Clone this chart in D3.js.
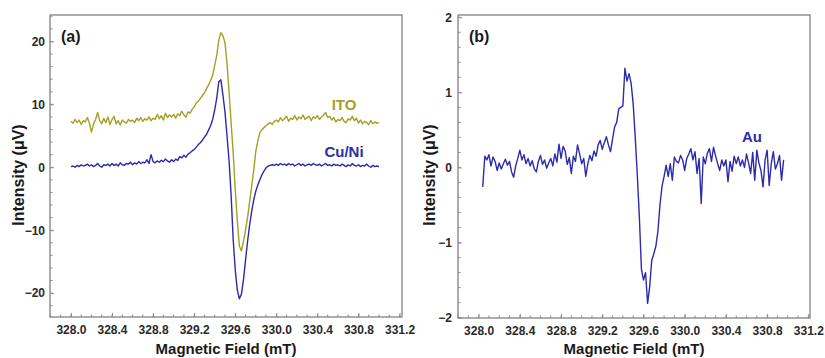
<!DOCTYPE html>
<html>
<head>
<meta charset="utf-8">
<script src="https://cdn.jsdelivr.net/npm/d3@7"></script>
<style>
  body { margin: 0; background: #fff; }
  svg { display: block; font-family: "Liberation Sans", Arial, sans-serif; }
</style>
</head>
<body>
<svg id="chart" width="825" height="358"></svg>
<script>
// field sweep (mT): first point and spacing of each recorded trace
const fieldStartA = 328.0;
const fieldStartB = 328.04;
const fieldStep = 0.02;

// panel (a) ITO, 328.00 .. 331.00
const itoValues = [
  7.3, 7.0, 7.6, 7.1, 7.5, 6.8, 7.4, 7.2, 7.9, 7.0,
  5.6, 6.9, 7.6, 8.7, 7.4, 6.9, 7.8, 7.1, 8.0, 6.8,
  7.6, 8.1, 6.9, 7.4, 6.7, 7.5, 7.2, 7.0, 7.6, 7.3,
  7.5, 7.1, 7.8, 7.4, 7.9, 7.3, 7.7, 7.5, 8.0, 7.4,
  7.8, 7.6, 8.4, 7.7, 8.2, 7.5, 8.6, 7.9, 8.3, 8.0,
  8.4, 7.8, 8.5, 8.2, 8.9, 8.3, 8.0, 8.8, 8.6, 9.2,
  9.6, 10.2, 10.5, 10.9, 11.4, 11.8, 12.5, 13.1, 13.8, 14.6,
  16.2, 17.8, 20.2, 21.4, 20.9, 19.8, 16.5, 12.0, 7.0, 2.3,
  -3.5, -8.5, -12.5, -13.3, -11.8, -10.0, -8.0, -5.5, -3.0, -0.5,
  2.5, 4.2, 5.5, 6.0, 6.3, 6.6, 6.9, 7.1, 6.8, 7.3,
  7.5, 7.2, 7.9, 7.4, 7.7, 8.1, 7.3, 7.8, 7.6, 8.2,
  7.5, 8.0, 7.7, 8.3, 7.6, 7.9, 8.1, 7.4, 8.0, 7.8,
  8.2, 7.6, 8.0, 8.3, 8.7, 7.9, 8.1, 7.5, 7.9, 7.2,
  7.6, 7.4, 7.9, 7.3, 7.1, 7.7, 7.5, 8.1, 7.4, 7.8,
  7.0, 7.5, 6.9, 7.3, 7.1, 6.8, 7.4, 6.9, 7.2, 7.0,
  7.1
];

// panel (a) Cu/Ni, 328.00 .. 331.00
const cuniValues = [
  0.1, 0.2, 0.0, 0.3, 0.1, 0.4, 0.2, 0.3, 0.5, 0.2,
  0.4, 0.1, 0.3, 0.6, 0.2, 0.0, 0.4, 0.3, 0.5, 0.2,
  0.6, 0.3, 0.5, 0.2, 0.7, 0.4, 0.3, 0.6, 0.5, 0.8,
  0.4, 0.7, 0.5, 0.9, 0.6, 0.8, 0.7, 1.2, 0.6, 2.0,
  0.9, 0.7, 1.0, 0.8, 1.1, 0.9, 1.3, 1.0, 0.8, 1.2,
  0.9, 1.3, 1.1, 1.7, 1.5, 1.9, 1.6, 2.1, 2.3, 2.6,
  2.8, 3.2, 3.6, 3.9, 4.3, 4.8, 5.2, 5.9, 6.6, 7.6,
  9.1, 11.0, 13.6, 13.9, 11.5, 8.8, 5.0, 1.0, -4.5, -11.5,
  -16.3, -19.5, -20.9, -20.2, -17.9, -14.8, -11.8, -9.2, -7.0, -5.2,
  -3.8, -2.8, -2.0, -1.2, -0.6, -0.1, 0.2, 0.3, 0.4, 0.3,
  0.5, 0.3, 0.6, 0.4, 0.5, 0.3, 0.6, 0.4, 0.5, 0.2,
  0.4, 0.6, 0.3, 0.5, 0.2, 0.4, 0.5, 0.3, 0.6, 0.4,
  0.3, 0.5, 0.2, 0.4, 0.6, 0.3, 0.4, 0.2, 0.5, 0.3,
  0.4, 0.2, 0.5, 0.3, 0.1, 0.4, 0.2, 0.6, 0.3, 0.2,
  0.4, 0.1, 0.3, 0.2, 0.5, 0.2, 0.0, 0.3, 0.1, 0.2,
  0.1
];

// panel (b) Au, 328.04 .. 330.96
const auValues = [
  -0.26, 0.15, 0.10, 0.17, 0.02, 0.14, 0.08, -0.04, 0.06, -0.02,
  0.05, 0.11, 0.03, 0.08, -0.06, -0.13, 0.02, 0.12, 0.23, 0.10,
  0.17, 0.05, 0.12, 0.02, 0.09, -0.02, -0.06, 0.08, 0.16, 0.04,
  0.10, -0.01, 0.06, 0.12, 0.02, 0.18, 0.07, 0.31, 0.12, 0.28,
  0.22, 0.04, 0.13, -0.08, 0.15, 0.08, 0.30, 0.18, 0.05, 0.12,
  -0.12, 0.05, 0.16, 0.09, 0.22, 0.15, 0.30, 0.36, 0.24, 0.33,
  0.41, 0.30, 0.21, 0.38, 0.54, 0.60, 0.78, 0.80, 0.82, 1.32,
  1.15, 1.25, 1.12, 0.85, 0.40, -0.10, -0.66, -1.35, -1.50, -1.40,
  -1.81, -1.59, -1.24, -1.15, -1.05, -0.85, -0.50, -0.25, -0.12, 0.03,
  -0.12, 0.05, -0.17, 0.14, 0.08, 0.06, 0.16, 0.10, -0.04, 0.12,
  0.18, 0.25, 0.10, 0.21, -0.08, 0.12, -0.48, 0.14, 0.05, 0.19,
  0.25, 0.08, 0.27, 0.15, 0.05, -0.04, 0.10, 0.02, 0.10, -0.19,
  0.08, -0.05, 0.15, 0.05, 0.14, 0.02, 0.10, 0.00, 0.18, 0.06,
  -0.08, 0.20, -0.17, 0.23, 0.06, -0.04, -0.26, 0.10, 0.23, -0.24,
  0.05, 0.21, -0.02, 0.05, 0.16, -0.17, 0.10
];

const xTicks = [328.0, 328.4, 328.8, 329.2, 329.6, 330.0, 330.4, 330.8, 331.2];
const yTicksA = [-20, -10, 0, 10, 20];
const yTicksB = [-2, -1, 0, 1, 2];

const olive = "#a59f26";
const blue = "#2b2bac";
const frameColor = "#8a8a8a";
const textColor = "#2a2a2a";

const svg = d3.select("#chart");

function toPoints(values, start) {
  return values.map((v, i) => [start + i * fieldStep, v]);
}

function drawPanel(opts) {
  var x = d3.scaleLinear().domain(opts.xDomain).range([opts.left, opts.right]);
  var y = d3.scaleLinear().domain(opts.yDomain).range([opts.bottom, opts.top]);

  var g = svg.append("g");

  // minor ticks first, majors drawn by the axis on top
  var xMinor = d3.range(Math.ceil(opts.xDomain[0] * 10), Math.floor(opts.xDomain[1] * 10) + 1).map(d => d / 10);
  g.append("g")
    .selectAll("line")
    .data(xMinor)
    .enter()
    .append("line")
    .attr("x1", d => x(d)).attr("x2", d => x(d))
    .attr("y1", opts.bottom).attr("y2", opts.bottom - 2.5)
    .attr("stroke", frameColor);

  var yMinor = d3.range(Math.ceil(opts.yDomain[0] / opts.yMinorStep), Math.floor(opts.yDomain[1] / opts.yMinorStep) + 1)
    .map(d => d * opts.yMinorStep);
  g.append("g")
    .selectAll("line")
    .data(yMinor)
    .enter()
    .append("line")
    .attr("x1", opts.left).attr("x2", opts.left + 2.5)
    .attr("y1", d => y(d)).attr("y2", d => y(d))
    .attr("stroke", frameColor);

  var xAxis = g.append("g")
    .attr("transform", "translate(0," + opts.bottom + ")")
    .call(d3.axisBottom(x).tickValues(xTicks).tickFormat(d3.format(".1f")).tickSizeInner(-4).tickSizeOuter(0).tickPadding(8));

  var yAxis = g.append("g")
    .attr("transform", "translate(" + opts.left + ",0)")
    .call(d3.axisLeft(y).tickValues(opts.yTicks).tickFormat(d3.format("d")).tickSizeInner(-4).tickSizeOuter(0).tickPadding(opts.yPad));

  [xAxis, yAxis].forEach(a => {
    a.select(".domain").remove();
    a.selectAll(".tick line").attr("stroke", frameColor);
    a.selectAll(".tick text")
      .attr("fill", textColor)
      .style("font-size", "12px")
      .style("font-weight", "bold")
      .style("font-family", "'Liberation Sans', Arial, sans-serif");
  });

  // frame
  g.append("rect")
    .attr("x", opts.left).attr("y", opts.top)
    .attr("width", opts.right - opts.left).attr("height", opts.bottom - opts.top)
    .attr("fill", "none")
    .attr("stroke", frameColor)
    .attr("stroke-width", 1.4);

  var line = d3.line().x(d => x(d[0])).y(d => y(d[1]));

  opts.series.forEach(s => {
    g.append("path")
      .datum(toPoints(s.values, s.start))
      .attr("d", line)
      .attr("fill", "none")
      .attr("stroke", s.color)
      .attr("stroke-width", 1.4)
      .attr("stroke-linejoin", "round");

    g.append("text")
      .attr("x", s.labelX).attr("y", s.labelY)
      .attr("text-anchor", "middle")
      .attr("fill", s.color)
      .style("font-size", "15px")
      .style("font-weight", "bold")
      .text(s.name);
  });

  g.append("text")
    .attr("x", opts.left + 11).attr("y", 42)
    .attr("fill", "#1a1a1a")
    .style("font-size", "16px")
    .style("font-weight", "bold")
    .text(opts.tag);

  g.append("text")
    .attr("x", (opts.left + opts.right) / 2).attr("y", 354)
    .attr("text-anchor", "middle")
    .attr("fill", "#1a1a1a")
    .style("font-size", "15px")
    .style("font-weight", "bold")
    .text("Magnetic Field (mT)");

  g.append("text")
    .attr("transform", "translate(" + opts.yTitleX + ",175) rotate(-90)")
    .attr("text-anchor", "middle")
    .attr("fill", "#1a1a1a")
    .style("font-size", "16px")
    .style("font-weight", "bold")
    .text("Intensity (μV)");
}

drawPanel({
  tag: "(a)",
  left: 50, right: 402, top: 15, bottom: 317,
  xDomain: [327.796, 331.224],
  yDomain: [-23.8, 24.2],
  yTicks: yTicksA,
  yMinorStep: 2,
  yPad: 5,
  yTitleX: 24,
  series: [
    { name: "ITO", values: itoValues, start: fieldStartA, color: olive, labelX: 344, labelY: 110 },
    { name: "Cu/Ni", values: cuniValues, start: fieldStartA, color: blue, labelX: 344, labelY: 157 }
  ]
});

drawPanel({
  tag: "(b)",
  left: 458, right: 810, top: 15, bottom: 318,
  xDomain: [327.8, 331.216],
  yDomain: [-2.005, 2.03],
  yTicks: yTicksB,
  yMinorStep: 0.2,
  yPad: 6,
  yTitleX: 435,
  series: [
    { name: "Au", values: auValues, start: fieldStartB, color: blue, labelX: 752, labelY: 142 }
  ]
});
</script>
</body>
</html>
